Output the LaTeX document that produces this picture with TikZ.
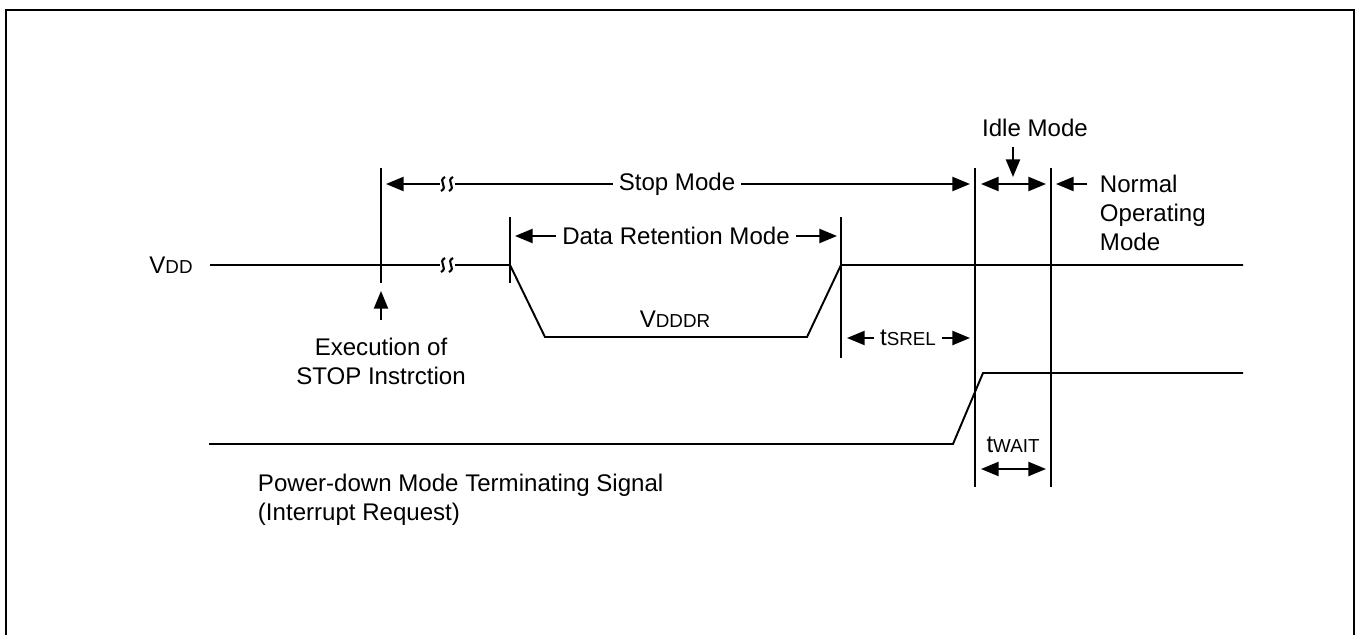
\documentclass[tikz,border=0pt]{standalone}
\usepackage{fontspec}
\setmainfont{Liberation Sans}
\usetikzlibrary{arrows.meta}

\newcommand{\capsub}[1]{{\fontsize{10.7}{12}\selectfont #1}}

\begin{document}
\begin{tikzpicture}[x=0.02cm,y=-0.02cm,line width=1.1pt,
	>={Triangle[length=10pt,width=8pt]},
	lbl/.style={font=\fontsize{13.7}{16.4}\selectfont,inner sep=0pt},
	tag/.style={lbl,inner sep=3pt}]
	\useasboundingbox (0,0) rectangle (1360,635);
	% frame, open at the bottom
	\draw[line width=1.3pt] (6,635) -- (6,10) -- (1354,10) -- (1354,635);
	% time marks
	\draw (381,168) -- (381,283);
	\draw (510,217) -- (510,283);
	\draw (841,217) -- (841,358);
	\draw (975,168) -- (975,487);
	\draw (1051,168) -- (1051,487);
	% VDD
	\node[lbl] (vdd) at (171,265) {V\capsub{DD}};
	\draw (210,265) -- (440,265);
	\draw (455,265) -- (510,265) -- (545,337) -- (807,337) -- (841,265) -- (1243,265);
	\node[lbl] (vdddr) at (675,319) {V\capsub{DDDR}};
	% breaks
	\foreach \y in {184,265}
		\foreach \x in {443,451}
			\draw[line width=1.2pt] (\x+2,\y-7) .. controls (\x-6,\y-3) and (\x+6,\y+3) .. (\x-2,\y+7);
	% stop mode
	\node[tag] (stop) at (677,184) {Stop Mode};
	\draw[<-] (386,184) -- (440,184);
	\draw (455,184) -- (stop.west);
	\draw[->] (stop.east) -- (970,184);
	% data retention
	\node[tag] (ret) at (676,236) {Data Retention Mode};
	\draw[->] (ret.west) -- (515,236);
	\draw[->] (ret.east) -- (837,236);
	% execution
	\node[lbl,align=center] (exe) at (381,361) {Execution of\\STOP Instrction};
	\draw[->] (381,320) -- (381,291);
	% tSREL
	\node[tag] (srel) at (908,338) {t\capsub{SREL}};
	\draw[->] (srel.west) -- (847,338);
	\draw[->] (srel.east) -- (970,338);
	% idle and normal mode
	\node[lbl] (idle) at (1035,128) {Idle Mode};
	\draw[->] (1013,147) -- (1013,177);
	\draw[<->] (981,184) -- (1046,184);
	\node[lbl,anchor=west,align=left] (norm) at (1099,213) {Normal\\Operating\\Mode};
	\draw[->] (1087,184) -- (1056,184);
	% terminating signal
	\draw (209,444) -- (953,444) -- (983,373) -- (1243,373);
	\node[lbl] (wait) at (1013,445) {t\capsub{WAIT}};
	\draw[<->] (981,469) -- (1046,469);
	\node[lbl,anchor=west,align=left] (pdm) at (257,500) {Power-down Mode Terminating Signal\\(Interrupt Request)};
\end{tikzpicture}
\end{document}
